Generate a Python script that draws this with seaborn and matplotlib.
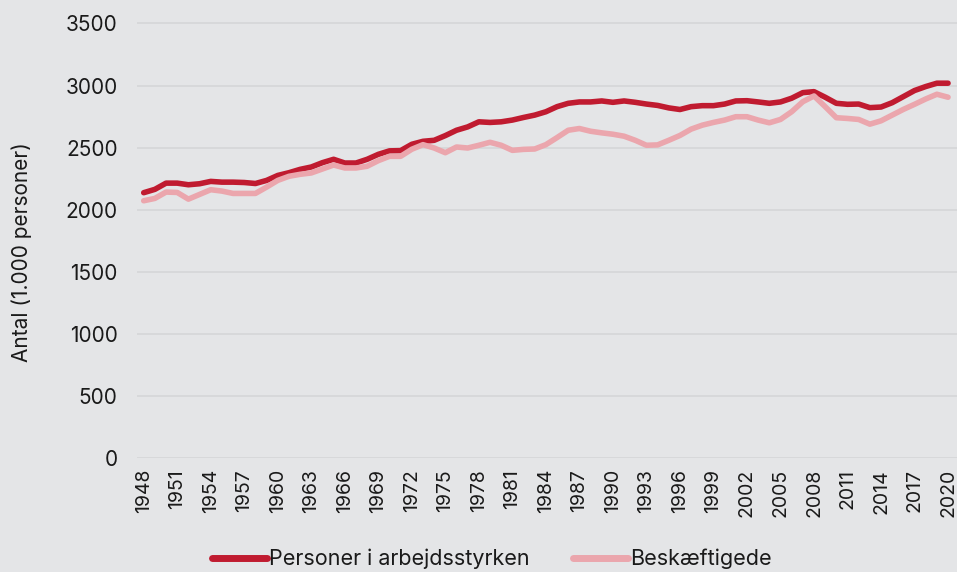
import numpy as np
import pandas as pd
import matplotlib
matplotlib.use("Agg")
import matplotlib.pyplot as plt
import seaborn as sns

years = list(range(1948, 2021))

arbejdsstyrke = [
    2137, 2164, 2214, 2214, 2201, 2209, 2228, 2222, 2222, 2219,
    2211, 2236, 2276, 2298, 2325, 2344, 2379, 2406, 2376, 2376,
    2406, 2446, 2474, 2476, 2527, 2551, 2559, 2597, 2640, 2667,
    2708, 2703, 2708, 2722, 2743, 2762, 2789, 2830, 2857, 2868,
    2868, 2876, 2865, 2876, 2865, 2851, 2840, 2820, 2807, 2830,
    2838, 2838, 2851, 2876, 2878, 2868, 2857, 2868, 2898, 2943,
    2951, 2906, 2857, 2849, 2851, 2822, 2827, 2862, 2911, 2960,
    2992, 3019, 3019,
]

beskaeftigede = [
    2072, 2091, 2142, 2139, 2085, 2123, 2161, 2150, 2131, 2131,
    2131, 2182, 2236, 2269, 2285, 2296, 2328, 2360, 2336, 2336,
    2350, 2395, 2430, 2430, 2487, 2524, 2497, 2459, 2505, 2497,
    2519, 2543, 2519, 2478, 2486, 2489, 2524, 2581, 2640, 2654,
    2632, 2619, 2608, 2592, 2559, 2519, 2522, 2559, 2598, 2649,
    2681, 2703, 2722, 2749, 2749, 2722, 2700, 2727, 2789, 2870,
    2916, 2830, 2741, 2735, 2727, 2689, 2716, 2762, 2808, 2849,
    2892, 2930, 2906,
]

series_names = ["Personer i arbejdsstyrken", "Beskæftigede"]
colors = ["#C01B30", "#EBA6AD"]
xtick_years = list(range(1948, 2021, 3))
yticks = [0, 500, 1000, 1500, 2000, 2500, 3000, 3500]

df = pd.DataFrame({
    "År": years * 2,
    "Antal": arbejdsstyrke + beskaeftigede,
    "Serie": [series_names[0]] * len(years) + [series_names[1]] * len(years),
})

bg = "#E4E5E7"
sns.set_theme(style="white")
plt.rcParams["font.family"] = ["Inter", "DejaVu Sans"]

fig = plt.figure(figsize=(9.57, 5.72), dpi=100, facecolor=bg)
ax = fig.add_axes([137 / 957, 1 - 458 / 572, (957 - 137) / 957, (458 - 21) / 572])
ax.set_facecolor(bg)

sns.lineplot(data=df, x="År", y="Antal", hue="Serie", palette=colors,
             linewidth=4.0, ax=ax, legend=True)

ax.set_xlim(1947.4, 2020.8)
ax.set_ylim(0, 3520)
ax.set_yticks(yticks)
ax.set_yticklabels([str(v) for v in yticks], fontsize=15, color="#1a1a1a")
ax.set_xticks(xtick_years)
ax.set_xticklabels([str(y) for y in xtick_years], rotation=90, fontsize=14,
                   color="#1a1a1a")
ax.tick_params(axis="both", length=0)
ax.tick_params(axis="y", pad=14)
ax.tick_params(axis="x", pad=8)
ax.yaxis.grid(True, color="#D5D6D8", linewidth=1.2)
ax.xaxis.grid(False)
for s in ax.spines.values():
    s.set_visible(False)
ax.set_xlabel("")
ax.set_ylabel("")
fig.text(22 / 957, 1 - 252 / 572, "Antal (1.000 personer)", rotation=90,
         ha="center", va="center", fontsize=15, color="#1a1a1a")

handles, labels = ax.get_legend_handles_labels()
ax.legend_.remove()
leg = fig.legend(handles, labels, loc="center", bbox_to_anchor=(492 / 957, 1 - 559 / 572),
                 ncol=2, frameon=False, handlelength=2.55,
                 handletextpad=0.1, columnspacing=2.0,
                 prop={"size": 15.5})
for t in leg.get_texts():
    t.set_color("#1a1a1a")
for line in leg.get_lines():
    line.set_linewidth(5)

fig.savefig("out.png", dpi=100, facecolor=bg)
